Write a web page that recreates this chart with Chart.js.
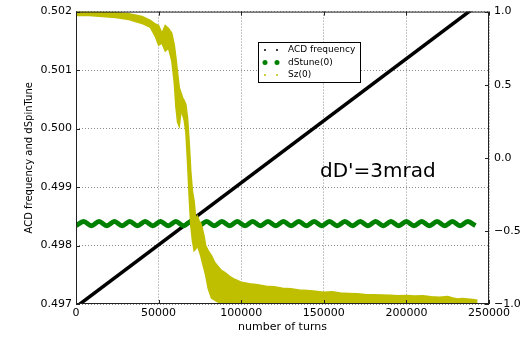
<!DOCTYPE html>
<html>
<head>
<meta charset="utf-8">
<script src="https://cdn.jsdelivr.net/npm/chart.js@4.4.0/dist/chart.umd.min.js"></script>
<style>
  html, body { margin: 0; padding: 0; background: #fff; }
  #wrap { width: 527px; height: 337px; }
</style>
</head>
<body>
<div id="wrap"><canvas id="myChart" width="527" height="337"></canvas></div>
<script>
// tick labels
const xTicks = [0, 50000, 100000, 150000, 200000, 250000];
const leftTicks = [0.497, 0.498, 0.499, 0.500, 0.501, 0.502];
const rightTicks = [-1.0, -0.5, 0.0, 0.5, 1.0];

// ACD frequency (left axis)
const acdTurns = [0, 245000];
const acdFreq = [0.49695, 0.50215];

// dStune(0) (left axis)
const dStuneTurns = [0, 4650, 9300, 13950, 18600, 23250, 27900, 32550, 37200, 41850, 46500, 51150,
  55800, 60450, 65100, 69750, 74400, 79050, 83700, 88350, 93000, 97650, 102300, 106950, 111600,
  116250, 120900, 125550, 130200, 134850, 139500, 144150, 148800, 153450, 158100, 162750, 167400,
  172050, 176700, 181350, 186000, 190650, 195300, 199950, 204600, 209250, 213900, 218550, 223200,
  227850, 232500, 237150, 241800];
const dStune = [0.49834, 0.49841, 0.49834, 0.49841, 0.49834, 0.49841, 0.49834, 0.49841, 0.49834,
  0.49841, 0.49834, 0.49841, 0.49834, 0.49841, 0.49834, 0.49841, 0.49834, 0.49841, 0.49834,
  0.49841, 0.49834, 0.49841, 0.49834, 0.49841, 0.49834, 0.49841, 0.49834, 0.49841, 0.49834,
  0.49841, 0.49834, 0.49841, 0.49834, 0.49841, 0.49834, 0.49841, 0.49834, 0.49841, 0.49834,
  0.49841, 0.49834, 0.49841, 0.49834, 0.49841, 0.49834, 0.49841, 0.49834, 0.49841, 0.49834,
  0.49841, 0.49834, 0.49841, 0.49834];

// Sz(0) (right axis) - noisy band, upper and lower edge
const szTurns = [0, 8000, 16000, 24000, 32000, 40000, 45000, 48000, 50000, 52000, 54000, 56000,
  58000, 59500, 60500, 61500, 62500, 63500, 64500, 65500, 66500, 67500, 68500, 69500, 70500,
  71500, 72500, 73500, 74500, 75500, 76500, 77500, 78500, 80000, 82000, 84000, 86000, 88000,
  90000, 93000, 96000, 100000, 105000, 110000, 115000, 120000, 125000, 130000, 135000, 140000,
  145000, 150000, 155000, 160000, 165000, 170000, 175000, 180000, 185000, 190000, 195000, 200000,
  205000, 210000, 215000, 220000, 225000, 228000, 231000, 234000, 237000, 240000, 243000];
const szUpper = [0.999, 0.998, 0.995, 0.993, 0.986, 0.966, 0.939, 0.915, 0.905, 0.852, 0.905, 0.885,
  0.851, 0.770, 0.682, 0.581, 0.480, 0.446, 0.412, 0.392, 0.365, 0.277, 0.108, -0.095, -0.230,
  -0.297, -0.419, -0.399, -0.432, -0.446, -0.486, -0.534, -0.601, -0.635, -0.669, -0.716, -0.743,
  -0.770, -0.784, -0.811, -0.831, -0.851, -0.862, -0.868, -0.879, -0.882, -0.892, -0.895, -0.905,
  -0.908, -0.912, -0.919, -0.917, -0.925, -0.928, -0.930, -0.935, -0.937, -0.939, -0.941, -0.943,
  -0.942, -0.946, -0.944, -0.950, -0.953, -0.949, -0.958, -0.965, -0.962, -0.966, -0.970, -0.975];
const szLower = [0.973, 0.973, 0.966, 0.959, 0.946, 0.919, 0.892, 0.831, 0.770, 0.784, 0.730, 0.750,
  0.662, 0.514, 0.345, 0.243, 0.216, 0.311, 0.297, 0.257, 0.176, -0.027, -0.264, -0.466, -0.568,
  -0.635, -0.622, -0.601, -0.635, -0.669, -0.716, -0.757, -0.804, -0.892, -0.959, -0.973, -0.986,
  -0.993, -0.993, -0.993, -1.0, -1.0, -1.0, -1.0, -1.0, -1.0, -1.0, -1.0, -1.0, -1.0, -1.0, -1.0,
  -1.0, -1.0, -1.0, -1.0, -1.0, -1.0, -1.0, -1.0, -1.0, -1.0, -1.0, -1.0, -1.0, -1.0, -0.995,
  -0.993, -0.993, -0.993, -0.993, -0.993, -0.993];

const YELLOW = '#bfbf00';
const GREEN = '#008000';
const FONT = "'DejaVu Sans', sans-serif";

const toPoints = (xs, ys) => xs.map((x, i) => ({x: x, y: ys[i]}));
const setTicks = (list) => (scale) => { scale.ticks = list.map(v => ({value: v})); };

// frame, inward ticks, legend and annotation
const extras = {
  id: 'extras',
  afterDatasetsDraw(chart) {
    const {ctx, chartArea: a, scales} = chart;
    ctx.save();
    ctx.strokeStyle = '#222';
    ctx.lineWidth = 1;
    ctx.strokeRect(a.left + 0.5, a.top + 0.5, a.right - a.left - 1, a.bottom - a.top - 1);
    ctx.beginPath();
    xTicks.forEach(v => {
      const px = Math.round(scales.x.getPixelForValue(v)) + 0.5;
      ctx.moveTo(px, a.bottom); ctx.lineTo(px, a.bottom - 4);
      ctx.moveTo(px, a.top); ctx.lineTo(px, a.top + 4);
    });
    leftTicks.forEach(v => {
      const py = Math.round(scales.y.getPixelForValue(v)) + 0.5;
      ctx.moveTo(a.left, py); ctx.lineTo(a.left + 4, py);
    });
    rightTicks.forEach(v => {
      const py = Math.round(scales.y2.getPixelForValue(v)) + 0.5;
      ctx.moveTo(a.right, py); ctx.lineTo(a.right - 4, py);
    });
    ctx.stroke();

    // annotation
    ctx.fillStyle = '#000';
    ctx.font = '20px ' + FONT;
    ctx.textAlign = 'left';
    ctx.textBaseline = 'alphabetic';
    ctx.fillText("dD'=3mrad", 320, 177);

    // legend
    ctx.fillStyle = '#fff';
    ctx.fillRect(258.5, 42.5, 102, 40);
    ctx.strokeStyle = '#000';
    ctx.strokeRect(258.5, 42.5, 102, 40);
    const rows = [
      {label: 'ACD frequency', color: '#000', r: 1},
      {label: 'dStune(0)', color: GREEN, r: 2.5},
      {label: 'Sz(0)', color: YELLOW, r: 1}
    ];
    ctx.font = '9px ' + FONT;
    ctx.textBaseline = 'middle';
    rows.forEach((row, i) => {
      const y = 50 + i * 12.5;
      ctx.fillStyle = row.color;
      [265, 277].forEach(x => {
        ctx.beginPath();
        ctx.arc(x, y, row.r, 0, Math.PI * 2);
        ctx.fill();
      });
      ctx.fillStyle = '#000';
      ctx.fillText(row.label, 288, y);
    });
    ctx.restore();
  }
};

const myChartRef = document.getElementById('myChart').getContext('2d');

new Chart(myChartRef, {
  type: 'line',
  data: {
    datasets: [
      {
        label: 'Sz(0)',
        data: toPoints(szTurns, szUpper),
        yAxisID: 'y2',
        borderColor: YELLOW,
        borderWidth: 1.5,
        pointRadius: 0,
        fill: false,
        tension: 0,
        order: 0
      },
      {
        label: 'Sz(0) lower',
        data: toPoints(szTurns, szLower),
        yAxisID: 'y2',
        borderColor: YELLOW,
        backgroundColor: YELLOW,
        borderWidth: 1.5,
        pointRadius: 0,
        fill: '-1',
        tension: 0,
        order: 0
      },
      {
        label: 'dStune(0)',
        data: toPoints(dStuneTurns, dStune),
        yAxisID: 'y',
        borderColor: GREEN,
        borderWidth: 5,
        pointRadius: 0,
        cubicInterpolationMode: 'monotone',
        order: 1
      },
      {
        label: 'ACD frequency',
        data: toPoints(acdTurns, acdFreq),
        yAxisID: 'y',
        borderColor: '#000',
        borderWidth: 3.5,
        pointRadius: 0,
        clip: 0,
        order: 2
      }
    ]
  },
  options: {
    responsive: false,
    animation: false,
    events: [],
    layout: {padding: {top: 8, left: 0, right: 0, bottom: 0}},
    plugins: {legend: {display: false}, tooltip: {enabled: false}},
    scales: {
      x: {
        type: 'linear',
        min: 0,
        max: 250000,
        afterBuildTicks: setTicks(xTicks),
        afterFit: (s) => { s.height = 33; },
        border: {display: false, dash: [1, 2]},
        grid: {color: 'rgba(0,0,0,0.45)', drawTicks: false, lineWidth: 1},
        ticks: {color: '#000', font: {family: FONT, size: 11}, padding: 3, maxRotation: 0,
          callback: (v) => String(v)},
        title: {display: true, text: 'number of turns', color: '#000',
          font: {family: FONT, size: 11}, padding: {top: 0, bottom: 3}}
      },
      y: {
        position: 'left',
        min: 0.497,
        max: 0.502,
        afterBuildTicks: setTicks(leftTicks),
        afterFit: (s) => { s.width = 76; },
        border: {display: false, dash: [1, 2]},
        grid: {color: 'rgba(0,0,0,0.45)', drawTicks: false, lineWidth: 1},
        ticks: {color: '#000', font: {family: FONT, size: 11}, padding: 4,
          callback: (v) => Number(v).toFixed(3)},
        title: {display: true, text: 'ACD frequency and dSpinTune', color: '#000',
          font: {family: FONT, size: 10}, padding: {top: 23, bottom: 0}}
      },
      y2: {
        position: 'right',
        min: -1,
        max: 1,
        afterBuildTicks: setTicks(rightTicks),
        afterFit: (s) => { s.width = 38; },
        border: {display: false},
        grid: {display: false, drawTicks: false},
        ticks: {color: '#000', font: {family: FONT, size: 11}, padding: 5,
          callback: (v) => Number(v).toFixed(1).replace('-', '\u2212')}
      }
    }
  },
  plugins: [extras]
});
</script>
</body>
</html>
